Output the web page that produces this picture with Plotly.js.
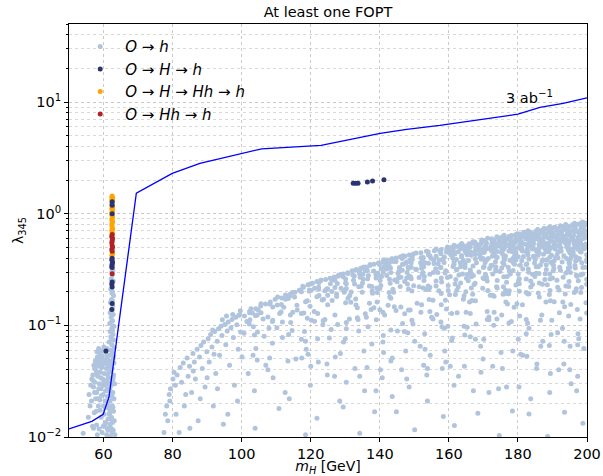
<!DOCTYPE html>
<html>
<head>
<meta charset="utf-8">
<script src="https://cdn.plot.ly/plotly-3.0.1.min.js"></script>
<style>html,body{margin:0;padding:0;background:#fff;}#chart{width:603px;height:476px;}</style>
</head>
<body>
<div id="chart"></div>
<script>
// ---- Data (x = m_H [GeV], y = lambda_345) ----
const lightStrip = [[62.4,0.39],[62.6,0.36],[62.3,0.33],[62.7,0.31],[62.5,0.28],[62.2,0.26],[62.8,0.25],[62.4,0.23],[62.1,0.21],[62.6,0.2],[62.9,0.185],[62.3,0.17],[62.0,0.16],[62.7,0.15],[62.5,0.14],[61.9,0.13],[62.8,0.125],[62.2,0.118],[62.6,0.11],[61.8,0.104],[63.0,0.098],[62.4,0.094],[61.9,0.088],[62.7,0.083],[62.1,0.079],[62.9,0.074],[61.6,0.071],[62.4,0.067],[63.1,0.063],[62.0,0.06],[62.6,0.057],[61.7,0.054],[62.8,0.051],[62.3,0.048],[63.0,0.046],[61.9,0.043],[62.5,0.041],[62.1,0.039],[62.9,0.036],[61.6,0.034],[62.6,0.032],[63.2,0.03],[62.2,0.029],[61.8,0.027],[62.7,0.025],[62.4,0.023],[63.0,0.022],[61.9,0.021],[62.5,0.019],[62.1,0.018],[62.9,0.017],[61.7,0.016],[62.3,0.015],[63.1,0.014],[62.6,0.0135],[61.9,0.013],[62.2,0.012],[62.8,0.0115],[62.5,0.011],[63.3,0.0105],[62.0,0.0102],[61.5,0.012],[62.4,0.0145],[61.8,0.0165],[62.7,0.0185],[62.0,0.024],[61.4,0.026],[62.3,0.031],[62.8,0.034],[61.5,0.038],[62.2,0.045],[62.9,0.053],[61.3,0.045],[62.4,0.075],[62.6,0.09],[62.3,0.107],[62.4,0.135],[62.6,0.165],[62.4,0.195],[62.5,0.245],[62.4,0.3],[62.5,0.35]];
const lightBlob = [[58.6,0.062],[59.4,0.059],[60.1,0.064],[59.0,0.055],[60.6,0.057],[58.2,0.052],[59.7,0.05],[61.0,0.053],[57.6,0.048],[58.9,0.047],[60.3,0.046],[61.3,0.049],[57.2,0.044],[58.4,0.043],[59.5,0.042],[60.8,0.041],[57.9,0.039],[59.1,0.038],[60.2,0.037],[61.2,0.036],[56.9,0.036],[58.3,0.035],[59.8,0.033],[60.9,0.032],[57.5,0.031],[58.8,0.03],[60.4,0.029],[61.4,0.03],[57.1,0.028],[59.3,0.027],[60.7,0.026],[58.0,0.025],[59.9,0.024],[61.1,0.023],[57.7,0.022],[59.0,0.0215],[60.5,0.021],[58.5,0.019],[61.2,0.0195],[59.0,0.0174],[60.2,0.016],[55.6,0.015],[58.0,0.0128],[60.6,0.0135],[61.0,0.012],[54.1,0.0108],[59.6,0.011],[60.9,0.0105],[58.7,0.0118],[56.8,0.0125],[61.3,0.0145],[57.3,0.0165],[56.5,0.021],[59.4,0.0235],[60.0,0.045],[58.1,0.058],[59.2,0.034],[61.5,0.043],[60.6,0.0185],
[57.8,0.046],[58.5,0.05],[59.6,0.053],[60.4,0.06],[61.0,0.062],[57.4,0.041],[58.1,0.037],[59.3,0.045],[60.6,0.049],[56.6,0.033],[57.0,0.032],[58.6,0.027],[59.7,0.029],[60.1,0.031],[61.4,0.034],[56.3,0.029],[57.4,0.025],[58.4,0.022],[60.0,0.019],[61.2,0.027],[57.9,0.017],[59.3,0.015],[60.4,0.013],[61.6,0.018],[59.9,0.0125],[58.2,0.0105],[61.3,0.0115],[56.1,0.019],[55.8,0.024],[57.1,0.012]];
const lightLow = [[77.5,0.011],[77.9,0.016],[78.3,0.019],[78.6,0.014],[79.0,0.024],[79.4,0.027],[79.2,0.021],[80.1,0.033],[80.4,0.038],[80.8,0.029],[81.3,0.036],[81.9,0.011],[82.2,0.042],[82.6,0.031],[83.1,0.046],[83.4,0.019],[83.8,0.024],[84.2,0.051],[84.5,0.035],[84.9,0.043],[85.5,0.025],[85.9,0.056],[86.3,0.047],[86.6,0.033],[87.1,0.061],[87.4,0.014],[87.8,0.052],[88.2,0.066],[88.6,0.041],[89.0,0.071],[89.4,0.028],[89.9,0.058],[90.3,0.076],[90.6,0.047],[91.0,0.083],[91.4,0.064],[91.8,0.019],[92.2,0.088],[92.5,0.037],[92.9,0.072],[93.3,0.093],[93.6,0.054],[94.0,0.098],[94.3,0.081],[94.7,0.013],[95.1,0.102],[95.4,0.067],[95.8,0.089],[96.1,0.107],[96.5,0.044],[96.9,0.095],[97.2,0.113],[97.6,0.078],[97.9,0.029],[98.3,0.118],[98.6,0.101],[99.0,0.061],[99.3,0.124],[99.7,0.087],[96.0,0.016],[88.0,0.022],[85.0,0.012],[93.0,0.027],[90.0,0.034],[98.8,0.021],[81.0,0.016],[86.0,0.039],[92.0,0.055],[95.6,0.121],[97.4,0.125],[99.6,0.135],[94.4,0.112],[91.6,0.091]];
// points along the upper edge of the cloud, 100-150 GeV
const lightEdge = [[100.8,.121],[101.5,.108],[102.3,.133],[103.4,.097],[104.1,.141],[104.8,.137],[105.5,.149],[106.2,.114],[106.9,.155],[107.6,.119],[108.3,.162],[108.9,.108],[109.7,.171],[110.3,.152],[111.0,.128],[111.6,.176],[112.2,.145],[112.9,.184],[113.5,.174],[114.1,.191],[114.8,.131],[115.4,.198],[116.0,.151],[116.7,.206],[117.3,.2],[117.9,.219],[118.5,.163],[119.2,.231],[119.8,.148],[120.5,.238],[121.1,.215],[121.8,.247],[122.4,.185],[123.0,.253],[123.7,.171],[124.3,.258],[124.9,.213],[125.6,.264],[126.2,.255],[126.8,.271],[127.5,.191],[128.1,.282],[128.8,.215],[129.4,.289],[130.1,.24],[130.7,.296],[131.3,.185],[132.0,.309],[132.6,.276],[133.2,.316],[133.9,.222],[134.5,.325],[135.2,.259],[135.8,.333],[136.4,.31],[137.1,.344],[137.7,.223],[138.3,.352],[139.0,.279],[139.6,.361],[140.2,.275],[140.9,.371],[141.5,.329],[142.1,.385],[142.8,.259],[143.4,.393],[144.0,.374],[144.7,.401],[145.3,.292],[145.9,.409],[146.6,.353],[147.2,.419],[147.8,.265],[148.5,.427],[149.1,.331],[149.7,.435]];
// dense upper band (lambda 0.45 - 0.85)
const lightBandTop = [
[198.8,.843],[198.5,.836],[196.4,.822],[198.2,.818],[199.9,.826],
[193.8,.801],[195.8,.797],[197.5,.806],[198.8,.803],
[192.3,.779],[194.1,.783],[195.5,.776],[198.5,.781],[199.3,.778],
[189.2,.762],[190.7,.758],[193.2,.765],[194.5,.757],[196.5,.763],[198.4,.756],
[187.6,.741],[188.7,.737],[190.1,.744],[191.9,.739],[194.5,.735],[196.6,.742],[198.8,.738],
[185.7,.721],[187.3,.717],[188.3,.724],[189.3,.719],[191.2,.715],[193.8,.722],[196.3,.718],[198.2,.723],
[182.9,.702],[185.2,.697],[186.5,.705],[187.3,.699],[189.5,.695],[191.7,.703],[192.7,.698],[195.4,.701],[197.7,.694],[199.4,.704],
[181.7,.683],[182.8,.677],[183.6,.681],[185.1,.676],[187.2,.685],[189.1,.679],[190.2,.674],[191.8,.682],[195.0,.678],[196.5,.686],[198.5,.675],
[179.8,.662],[180.5,.657],[181.9,.665],[183.9,.659],[185.7,.654],[186.5,.663],[188.2,.658],[189.5,.661],[192.3,.655],[194.3,.664],[194.9,.656],[197.8,.66],[199.3,.653],
[176.0,.642],[178.1,.637],[179.2,.645],[181.6,.639],[182.6,.634],[183.5,.643],[184.9,.638],[187.8,.641],[189.7,.635],[191.4,.644],[193.1,.636],[194.4,.64],[196.1,.633],[198.6,.646],[199.2,.637],
[173.9,.621],[175.4,.617],[177.4,.625],[178.0,.618],[180.0,.614],[181.4,.623],[183.1,.619],[184.5,.616],[185.9,.624],[187.5,.613],[190.1,.62],[190.8,.626],[193.3,.615],[195.4,.622],[197.5,.618],[199.4,.612],
[171.2,.602],[172.4,.597],[174.4,.605],[176.5,.598],[176.8,.594],[179.5,.603],[180.7,.599],[182.3,.596],[183.1,.604],[185.0,.593],[186.4,.601],[188.8,.606],[189.6,.595],[191.5,.602],[192.8,.598],[195.5,.592],[197.5,.604],[199.0,.6],
[169.5,.582],[169.8,.577],[172.5,.585],[173.1,.578],[175.3,.574],[176.2,.583],[177.6,.579],[179.5,.576],[180.3,.584],[183.2,.573],[184.3,.581],[186.0,.586],[187.0,.575],[189.5,.582],[191.5,.578],[192.4,.572],[194.1,.584],[196.0,.58],[197.9,.576],
[167.0,.562],[167.5,.557],[169.6,.565],[170.6,.558],[172.5,.554],[174.5,.563],[175.1,.559],[176.2,.556],[178.7,.564],[179.3,.553],[181.0,.561],[183.4,.566],[184.4,.555],[186.7,.562],[187.4,.558],[189.1,.552],[190.7,.564],[193.4,.56],[194.8,.556],[196.8,.563],[198.1,.557],
[163.7,.542],[165.9,.537],[166.8,.545],[167.8,.538],[169.2,.534],[170.9,.543],[173.1,.539],[173.6,.536],[175.4,.544],[177.9,.533],[178.7,.541],[180.8,.546],[181.9,.535],[183.1,.542],[184.5,.538],[186.1,.532],[187.9,.544],[190.5,.54],[192.1,.536],[193.8,.543],[196.3,.537],[198.0,.541],[199.6,.535],
[161.5,.522],[163.0,.517],[164.0,.525],[165.4,.518],[167.8,.514],[168.7,.523],[170.7,.519],[172.3,.516],[173.2,.524],[174.5,.513],[176.7,.521],[177.4,.526],[178.6,.515],[180.6,.522],[182.8,.518],[183.4,.512],[186.2,.524],[187.4,.52],[188.8,.516],[190.6,.523],[191.9,.517],[194.6,.521],[196.5,.515],[197.4,.524],[198.8,.519],
[159.6,.502],[160.7,.497],[162.0,.505],[163.4,.498],[164.9,.494],[166.2,.503],[168.2,.499],[168.8,.496],[170.4,.504],[172.0,.493],[173.5,.501],[175.2,.506],[176.1,.495],[177.7,.502],[180.0,.498],[181.1,.492],[183.2,.504],[184.4,.5],[186.2,.496],[187.4,.503],[189.7,.497],[190.5,.501],[192.4,.495],[194.1,.504],[196.8,.499],[198.7,.494],[199.9,.502],
[156.3,.482],[157.8,.477],[159.4,.485],[160.0,.478],[161.2,.474],[163.3,.483],[164.6,.479],[165.5,.476],[167.8,.484],[168.4,.473],[169.9,.481],[171.2,.486],[172.9,.475],[175.4,.482],[175.8,.478],[178.5,.472],[178.9,.484],[180.9,.48],[182.6,.476],[184.2,.483],[185.6,.477],[187.9,.481],[189.1,.475],[190.8,.484],[192.4,.479],[194.6,.474],[195.5,.482],[197.5,.478],[199.2,.485],
[153.5,.462],[154.0,.457],[155.8,.465],[157.4,.458],[159.3,.454],[160.6,.463],[161.3,.459],[162.7,.456],[164.7,.464],[166.3,.453],[167.6,.461],[169.1,.466],[170.3,.455],[172.4,.462],[174.0,.458],[175.2,.452],[177.4,.464],[178.0,.46],[179.4,.456],[181.3,.463],[182.9,.457],[185.4,.461],[186.1,.455],[188.2,.464],[188.9,.459],[191.6,.454],[192.5,.462],[194.9,.458],[196.0,.465],[198.1,.457]];
// middle band (lambda 0.29 - 0.45)
const lightBandMid = [
[150.5,.445],[151.9,.446],[154.1,.427],[157.7,.438],[160.2,.444],[161.7,.435],[165.0,.448],[165.3,.429],[169.0,.434],[170.0,.449],[173.1,.433],[175.6,.434],[178.7,.455],[179.4,.442],[182.5,.451],[185.6,.424],[187.4,.434],[188.5,.456],[191.3,.426],[195.1,.445],[196.0,.44],[198.3,.454],
[146.7,.418],[149.4,.417],[152.6,.405],[154.5,.421],[156.3,.416],[158.7,.41],[160.6,.427],[163.7,.422],[166.5,.424],[167.7,.43],[169.1,.41],[172.6,.418],[173.7,.411],[176.0,.408],[179.0,.416],[181.6,.413],[182.9,.429],[185.9,.427],[189.2,.407],[189.7,.425],[193.3,.42],[195.5,.418],[196.8,.411],[199.9,.428],
[143.6,.395],[146.6,.417],[148.8,.386],[152.0,.403],[152.4,.392],[154.8,.4],[158.1,.389],[161.1,.401],[162.2,.389],[163.7,.41],[167.7,.392],[169.9,.396],[171.4,.397],[174.0,.406],[176.4,.417],[178.6,.4],[180.1,.412],[183.2,.393],[184.5,.416],[187.2,.386],[190.9,.403],[191.6,.402],[195.2,.392],[197.8,.397],[199.9,.389],
[141.2,.387],[142.8,.365],[146.5,.396],[147.8,.369],[149.4,.39],[151.8,.364],[155.6,.384],[157.1,.385],[158.3,.393],[161.5,.372],[164.2,.381],[165.7,.38],[169.4,.39],[170.9,.384],[173.5,.371],[176.1,.386],[177.7,.382],[179.4,.384],[181.1,.378],[185.0,.389],[187.0,.375],[188.3,.387],[190.5,.378],[194.1,.396],[194.8,.368],[197.4,.389],[199.9,.373],
[139.9,.351],[141.8,.363],[142.2,.346],[144.7,.373],[147.5,.36],[149.1,.363],[153.1,.363],[154.1,.359],[156.9,.357],[158.6,.366],[161.5,.352],[163.3,.364],[164.7,.357],[168.0,.364],[170.5,.366],[172.2,.343],[175.6,.366],[176.0,.35],[178.6,.366],[182.6,.357],[184.8,.361],[186.5,.348],[189.5,.367],[190.1,.352],[192.8,.369],[194.9,.358],[196.7,.377],[198.5,.364],
[135.2,.332],[137.2,.351],[141.3,.339],[142.8,.334],[145.7,.33],[146.7,.353],[148.2,.331],[152.1,.347],[152.7,.334],[155.7,.358],[157.7,.33],[161.2,.337],[163.4,.334],[164.6,.35],[167.0,.34],[170.2,.337],[172.5,.346],[173.6,.335],[177.2,.331],[179.0,.352],[180.7,.346],[182.4,.35],[185.3,.334],[188.2,.349],[190.3,.345],[192.1,.332],[194.6,.326],[196.5,.343],[199.6,.331],
[134.2,.312],[136.1,.319],[138.2,.307],[140.4,.322],[142.0,.32],[143.1,.327],[146.5,.311],[148.3,.323],[150.6,.316],[152.1,.324],[156.2,.322],[157.6,.329],[159.1,.308],[162.3,.316],[164.7,.33],[166.2,.313],[170.0,.33],[171.8,.323],[173.6,.317],[175.3,.326],[178.6,.31],[181.4,.32],[183.0,.32],[185.9,.335],[188.2,.317],[190.4,.322],[192.3,.312],[195.0,.331],[196.6,.327],[198.8,.329],
[130.8,.292],[133.0,.311],[134.1,.291],[135.8,.308],[139.4,.294],[141.0,.299],[143.2,.297],[145.5,.303],[147.9,.298],[150.4,.318],[152.5,.298],[155.5,.297],[156.8,.298],[158.9,.294],[162.2,.314],[164.0,.289],[166.3,.298],[168.7,.301],[170.6,.287],[173.6,.306],[174.8,.304],[177.5,.306],[180.1,.288],[183.1,.299],[185.3,.293],[186.1,.292],[187.9,.29],[190.2,.309],[194.5,.307],[195.2,.297],[198.8,.288]];
// lower band (lambda 0.19 - 0.29)
const lightBandLow = [
[127.9,.275],[128.8,.284],[132.2,.282],[135.1,.287],[136.7,.28],[138.9,.287],[142.0,.28],[145.4,.267],[148.5,.276],[148.9,.272],[152.3,.288],[154.5,.287],[157.8,.266],[160.4,.274],[162.9,.283],[165.4,.285],[167.1,.279],[169.9,.265],[172.7,.289],[175.9,.272],[177.8,.288],[180.4,.262],[184.2,.287],[184.9,.274],[189.2,.288],[190.0,.266],[193.9,.294],[196.9,.283],[198.2,.283],
[122.9,.253],[127.0,.254],[129.4,.273],[130.1,.26],[134.3,.269],[136.5,.262],[138.9,.265],[140.5,.274],[144.3,.255],[146.1,.269],[149.1,.261],[151.4,.268],[152.9,.274],[156.3,.249],[159.6,.268],[162.0,.258],[165.1,.264],[166.5,.273],[170.2,.261],[170.9,.268],[174.0,.252],[176.9,.274],[180.2,.253],[182.4,.26],[183.7,.25],[187.8,.258],[189.3,.26],[193.1,.269],[194.8,.247],[197.1,.275],[199.9,.259],
[119.9,.235],[122.4,.242],[125.7,.236],[127.7,.237],[130.3,.236],[132.4,.253],[135.0,.24],[137.0,.225],[140.1,.252],[143.0,.238],[145.0,.246],[147.2,.247],[149.8,.226],[152.8,.252],[156.3,.225],[157.9,.245],[161.8,.235],[163.4,.239],[165.6,.251],[167.6,.238],[171.1,.25],[173.8,.222],[176.7,.243],[179.4,.23],[180.4,.236],[184.2,.232],[186.2,.24],[188.5,.231],[191.3,.253],[194.7,.223],[197.5,.251],[199.9,.233],
[117.7,.224],[119.6,.207],[122.3,.221],[124.6,.212],[127.0,.218],[130.3,.214],[132.7,.234],[134.6,.224],[137.8,.203],[140.3,.228],[143.8,.211],[145.9,.223],[148.0,.234],[151.4,.222],[154.0,.225],[154.5,.219],[157.1,.204],[159.8,.227],[162.7,.22],[166.5,.216],[167.3,.232],[169.8,.215],[174.0,.216],[175.8,.222],[177.5,.204],[180.0,.236],[183.7,.22],[187.1,.233],[189.3,.205],[191.5,.219],[193.9,.225],[196.9,.213],[198.4,.218],
[114.7,.197],[116.9,.206],[119.6,.202],[122.3,.211],[124.9,.186],[126.1,.201],[129.6,.204],[131.7,.199],[134.9,.198],[137.9,.194],[139.1,.216],[142.7,.197],[144.0,.198],[148.3,.212],[149.3,.203],[153.4,.209],[154.2,.209],[157.8,.193],[159.8,.205],[162.3,.206],[164.9,.2],[166.9,.19],[171.3,.205],[172.7,.186],[176.4,.206],[177.3,.192],[180.4,.202],[182.4,.197],[185.9,.195],[189.1,.189],[191.9,.207],[193.7,.191],[196.3,.197],[198.2,.197]];
// sparse lower region (lambda 0.01 - 0.19)
const lightSparse = [
[105.6,.156],[110.4,.179],[112.7,.187],[112.7,.171],[113.9,.183],[115.3,.179],[120.1,.205],[121.8,.18],[124.1,.204],[123.3,.169],[126.2,.167],[129.7,.198],[130.1,.159],[133.0,.172],[133.5,.144],[137.5,.139],[140.0,.214],[139.3,.197],[143.2,.175],[142.9,.179],[146.1,.146],[148.8,.137],[150.8,.158],[152.6,.216],[154.3,.17],[155.4,.168],[160.2,.188],[159.0,.168],[161.9,.189],[164.4,.184],[167.7,.166],[166.7,.167],[172.0,.186],[173.1,.182],[176.4,.193],[177.0,.155],[179.7,.156],[182.9,.191],[183.2,.192],[186.2,.179],[189.4,.166],[190.5,.163],[193.0,.162],[196.7,.202],[199.7,.159],
[99.2,.123],[102.7,.141],[103.1,.129],[105.6,.13],[108.1,.155],[109.0,.146],[111.5,.154],[111.4,.132],[114.1,.124],[117.3,.128],[119.0,.166],[121.0,.133],[122.0,.128],[124.1,.113],[124.9,.153],[127.5,.181],[130.8,.175],[133.1,.152],[131.6,.161],[137.0,.158],[136.1,.118],[139.2,.162],[140.0,.138],[142.4,.151],[144.2,.147],[147.2,.127],[148.3,.137],[152.1,.153],[155.0,.118],[155.4,.114],[157.8,.153],[159.3,.14],[160.8,.128],[164.2,.171],[165.0,.131],[166.0,.162],[171.1,.133],[173.1,.131],[175.3,.124],[175.7,.19],[176.5,.162],[180.5,.121],[181.3,.153],[186.5,.111],[188.1,.162],[192.0,.13],[193.5,.147],[194.7,.121],[197.2,.139],
[102.4,.112],[102.3,.13],[104.5,.124],[104.0,.122],[104.6,.087],[107.9,.094],[109.0,.111],[111.8,.107],[114.2,.106],[116.1,.137],[118.0,.129],[119.0,.116],[120.2,.111],[121.1,.109],[123.6,.11],[127.0,.124],[127.8,.102],[130.3,.093],[131.2,.114],[133.5,.117],[133.7,.113],[135.8,.127],[138.3,.144],[141.4,.124],[140.9,.131],[143.2,.091],[144.7,.136],[146.6,.104],[149.3,.111],[149.6,.103],[151.9,.131],[154.5,.133],[157.7,.107],[156.5,.125],[158.7,.094],[162.4,.13],[165.3,.096],[166.2,.128],[167.9,.103],[171.1,.113],[171.6,.119],[173.9,.114],[178.1,.108],[178.9,.145],[182.4,.113],[182.8,.105],[186.9,.124],[189.8,.111],[192.9,.094],[195.3,.154],[198.0,.114],[199.9,.129],
[100.7,.085],[102.2,.103],[104.1,.062],[106.5,.08],[110.2,.095],[113.6,.083],[114.6,.09],[118.7,.061],[118.2,.088],[123.5,.101],[125.9,.092],[125.4,.077],[130.0,.076],[130.3,.106],[133.9,.089],[136.6,.097],[139.0,.112],[140.9,.071],[145.1,.089],[147.1,.088],[148.1,.086],[150.1,.072],[153.1,.061],[158.0,.097],[159.7,.098],[161.0,.077],[164.4,.098],[166.2,.079],[167.7,.075],[171.6,.112],[173.0,.1],[177.4,.105],[180.1,.075],[182.4,.084],[183.2,.094],[186.6,.065],[189.6,.083],[191.5,.086],[195.1,.065],[197.6,.076],[197.4,.084],
[100.1,.052],[103.7,.082],[108.1,.051],[108.9,.069],[111.8,.078],[115.7,.05],[117.3,.075],[118.5,.072],[122.0,.076],[124.7,.045],[127.1,.052],[129.5,.071],[135.4,.059],[137.7,.068],[141.0,.081],[141.1,.057],[143.6,.051],[147.5,.059],[151.7,.065],[153.0,.084],[154.6,.054],[158.8,.059],[160.8,.073],[164.6,.082],[169.2,.065],[170.1,.075],[175.1,.057],[178.5,.059],[180.8,.055],[182.6,.053],[187.2,.072],[189.1,.066],[193.4,.072],[197.3,.067],
[103.3,.054],[104.5,.049],[107.6,.04],[113.4,.048],[117.4,.051],[119.2,.055],[122.2,.047],[126.9,.035],[128.6,.056],[132.8,.041],[136.3,.042],[140.7,.034],[143.2,.048],[147.8,.033],[152.7,.044],[153.8,.041],[159.1,.047],[160.4,.043],[164.5,.043],[169.9,.05],[172.7,.043],[175.5,.041],[181.4,.054],[185.5,.045],[189.4,.037],[193.3,.045],[197.3,.035],[199.1,.062],
[101.9,.037],[107.0,.044],[112.6,.025],[120.0,.043],[124.8,.036],[130.3,.031],[135.6,.026],[140.2,.04],[146.3,.04],[153.6,.036],[158.1,.041],[162.8,.035],[169.3,.038],[174.4,.027],[180.3,.028],[185.4,.041],[191.8,.04],[195.0,.04],
[103.7,.026],[109.1,.034],[113.8,.022],[119.9,.029],[128.4,.021],[134.2,.035],[138.9,.026],[143.6,.023],[148.5,.028],[153.8,.021],[161.5,.029],[167.1,.026],[171.6,.025],[176.7,.028],[183.7,.022],[189.2,.025],[195.4,.03],[197.0,.026],
[103.9,.012],[110.8,.018],[118.5,.0105],[121.8,.0147],[129.4,.0186],[134.2,.0108],[138.5,.0168],[144.8,.0168],[150.1,.0116],[158.4,.0153],[161.6,.0127],[168.4,.0163],[174.6,.0103],[178.4,.0171],[183.2,.0161],[188.6,.0101],[193.5,.0167],[198.8,.0133]];

const darkPts = [[62.5,1.28],[62.5,1.19],[62.5,1.0],[62.5,0.40],[62.4,0.385],[62.6,0.37],[62.5,0.355],[62.4,0.34],[62.5,0.33],[62.5,0.245],[62.4,0.235],[62.5,0.22],[62.5,0.157],[62.4,0.139],[60.7,0.059],[132.3,1.87],[133.0,1.87],[133.7,1.87],[136.4,1.92],[137.9,1.96],[141.2,2.01]];
const orangePts = [[62.5,1.44],[62.4,1.41],[62.6,1.38],[62.5,1.35],[62.4,1.32],[62.6,1.29],[62.5,1.25],[62.4,1.22],[62.5,1.18],[62.6,1.15],[62.4,1.12],[62.5,1.09],[62.6,1.06],[62.4,1.03],[62.5,1.0],[62.4,0.97],[62.6,0.94],[62.5,0.91],[62.4,0.88],[62.6,0.85],[62.5,0.82],[62.4,0.79],[62.5,0.76],[62.6,0.73],[62.4,0.71],[62.5,0.68],[62.6,0.66],[62.4,0.63],[62.5,0.43],[62.4,0.42],[62.6,0.44]];
const redPts = [[62.5,0.65],[62.4,0.62],[62.6,0.6],[62.5,0.57],[62.4,0.55],[62.5,0.52],[62.6,0.5],[62.4,0.48],[62.5,0.46],[62.5,0.29]];

const contourMass = [50, 56.6, 59.9, 61.6, 69.5, 79.9, 87.9, 100, 105.8, 123, 133.3, 140.1, 147.8, 157.4, 180, 186.4, 193.1, 200];
const contourLambda = [0.0118, 0.0138, 0.016, 0.023, 1.53, 2.3, 2.82, 3.47, 3.81, 4.1, 4.72, 5.23, 5.69, 6.18, 7.79, 8.95, 9.72, 10.9];

const legendLabels = ['<i>O</i> → <i>h</i>', '<i>O</i> → <i>H</i> → <i>h</i>', '<i>O</i> → <i>H</i> → <i>Hh</i> → <i>h</i>', '<i>O</i> → <i>Hh</i> → <i>h</i>'];
const xTicks = [60, 80, 100, 120, 140, 160, 180, 200];
const yTicks = [0.01, 0.1, 1, 10];
const yTickText = ['10<sup>−2</sup>', '10<sup>−1</sup>', '10<sup>0</sup>', '10<sup>1</sup>'];
const contourLabel = '3 ab<sup>−1</sup>';

// ---- Build traces ----
const lightAll = [].concat(lightStrip, lightBlob, lightLow, lightEdge, lightBandTop, lightBandMid, lightBandLow, lightSparse);
const xs = a => a.map(p => p[0]);
const ys = a => a.map(p => p[1]);
const FONT = 'DejaVu Sans, Liberation Sans, sans-serif';
const MS = 5;

const traces = [
  {x: xs(lightAll), y: ys(lightAll), type: 'scatter', mode: 'markers', name: legendLabels[0], legendrank: 1,
   marker: {color: '#b0c4de', size: MS, line: {width: 0}}},
  {x: xs(orangePts), y: ys(orangePts), type: 'scatter', mode: 'markers', name: legendLabels[2], legendrank: 3,
   marker: {color: '#ffa500', size: MS, line: {width: 0}}},
  {x: xs(redPts), y: ys(redPts), type: 'scatter', mode: 'markers', name: legendLabels[3], legendrank: 4,
   marker: {color: '#b22222', size: MS, line: {width: 0}}},
  {x: xs(darkPts), y: ys(darkPts), type: 'scatter', mode: 'markers', name: legendLabels[1], legendrank: 2,
   marker: {color: '#2b3470', size: MS, line: {width: 0}}},
  {x: contourMass, y: contourLambda, type: 'scatter', mode: 'lines', showlegend: false,
   line: {color: '#0000ff', width: 1.3}}
];

const minorVals = [];
[0.01, 0.1, 1, 10].forEach(d => { for (let k = 2; k <= 9; k++) minorVals.push(+(d * k).toPrecision(3)); });

const layout = {
  width: 603, height: 476,
  margin: {l: 69, r: 16, t: 24, b: 39},
  paper_bgcolor: '#ffffff', plot_bgcolor: '#ffffff',
  font: {family: FONT, color: '#000000', size: 14},
  showlegend: true,
  title: {text: 'At least one FOPT', font: {family: FONT, size: 14.5, color: '#000'}, x: 0.5, xref: 'paper', y: 1 - 12 / 476, yref: 'container', yanchor: 'middle'},
  xaxis: {
    range: [50, 200], type: 'linear',
    tickmode: 'array', tickvals: xTicks, ticktext: xTicks.map(String),
    ticks: 'outside', ticklen: 4, tickwidth: 1, tickcolor: '#000',
    tickfont: {family: FONT, size: 14.5},
    showgrid: true, gridcolor: '#bdbdbd', griddash: 'dot', gridwidth: 0.8,
    showline: true, linecolor: '#000', linewidth: 1, mirror: true, zeroline: false,
    title: {text: '<i>m</i><sub><i>H</i></sub> [GeV]', font: {family: FONT, size: 14}, standoff: 3},
    automargin: false
  },
  yaxis: {
    type: 'log', range: [-2, Math.log10(50)],
    tickmode: 'array', tickvals: yTicks, ticktext: yTickText,
    ticks: 'outside', ticklen: 4, tickwidth: 1, tickcolor: '#000',
    tickfont: {family: FONT, size: 14.5},
    showgrid: true, gridcolor: '#bdbdbd', griddash: 'dot', gridwidth: 0.8,
    minor: {tickmode: 'array', tickvals: minorVals, ticks: 'outside', ticklen: 2, tickcolor: '#000',
            showgrid: true, gridcolor: '#cfcfcf', griddash: 'dot', gridwidth: 0.8},
    showline: true, linecolor: '#000', linewidth: 1, mirror: true, zeroline: false,
    title: {text: 'λ<sub>345</sub>', font: {family: FONT, size: 14}, standoff: 0},
    automargin: false
  },
  legend: {x: 0.012, y: 0.985, xanchor: 'left', yanchor: 'top', bgcolor: 'rgba(0,0,0,0)', borderwidth: 0,
           font: {family: FONT, size: 15}, itemsizing: 'trace', itemwidth: 40, traceorder: 'normal'},
  annotations: [{x: 183.4, y: Math.log10(11.1), xref: 'x', yref: 'y', text: contourLabel, showarrow: false,
                 font: {family: FONT, size: 14.5, color: '#000'}, xanchor: 'center', yanchor: 'middle'}]
};

Plotly.newPlot('chart', traces, layout, {staticPlot: true, displayModeBar: false});
</script>
</body>
</html>
